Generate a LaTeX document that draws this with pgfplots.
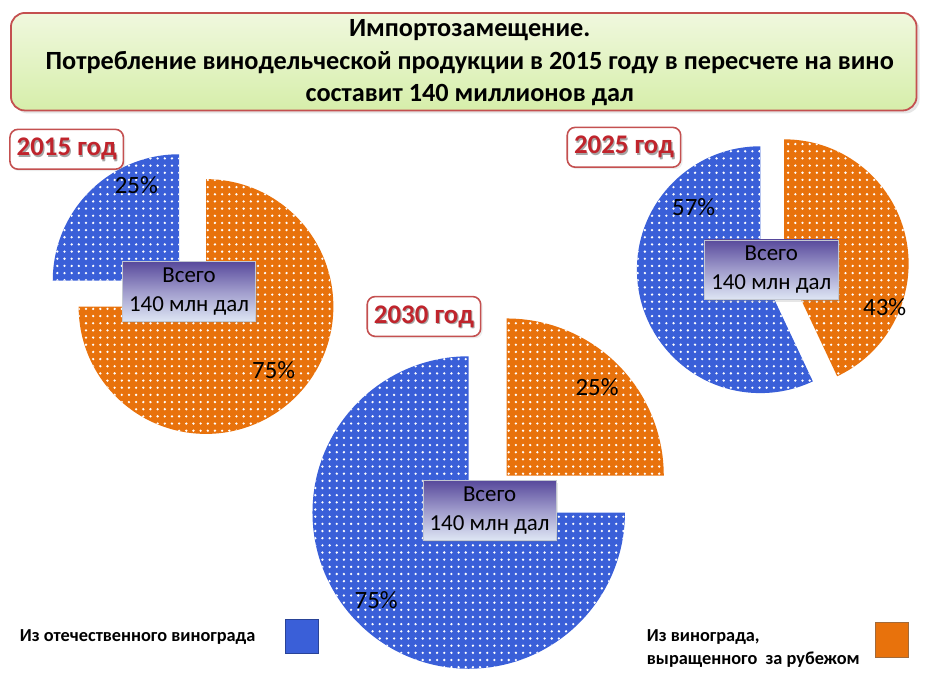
\documentclass[border=0pt]{standalone}
\usepackage{pgfplots}
\pgfplotsset{compat=1.18}
\usepackage{pgfplotstable}
\usepackage{fontspec}
\setmainfont{Carlito}
\usetikzlibrary{patterns,patterns.meta,shadows}
\definecolor{pblue}{RGB}{58,95,216}
\definecolor{porange}{RGB}{232,114,12}
\definecolor{redline}{RGB}{196,80,80}
\definecolor{darkred}{RGB}{192,36,44}
\definecolor{gtop}{RGB}{240,248,222}
\definecolor{gbot}{RGB}{214,238,170}
\definecolor{btop}{RGB}{88,74,156}
\definecolor{bmid}{RGB}{160,156,204}
\definecolor{bbot}{RGB}{222,230,244}
\tikzdeclarepattern{name=wdots, type=uncolored,
  bounding box={(-2pt,-2pt) and (2pt,2pt)},
  tile size={(3.6pt,3.6pt)},
  code={\fill (0pt,0pt) circle (0.65pt);}}
\newcommand\piewedge[6]{%
  \path[fill=#6, postaction={pattern=wdots, pattern color=white}]
    (axis cs:#1,#2) -- ++(#4:#3*0.5pt) arc[start angle=#4, end angle=#5, radius=#3*0.5pt] -- cycle;}
\newcommand\yearbox[3]{%
  \node[draw=redline, line width=0.8pt, rounded corners=4pt, fill=white, minimum width=57pt, minimum height=20pt, drop shadow={opacity=0.15, shadow xshift=1pt, shadow yshift=-1pt}] at (axis cs:#1,#2) {};
  \node[text=black!35, font=\bfseries\fontsize{13.5}{15}\selectfont] at ([xshift=0.6pt,yshift=-0.8pt]axis cs:#1,#2) {#3};
  \node[text=darkred, font=\bfseries\fontsize{13.5}{15}\selectfont] at (axis cs:#1,#2) {#3};}
\newcommand\totalbox[2]{%
  \node[top color=btop, bottom color=bbot, middle color=bmid, draw=bbot!70!gray, line width=0.3pt, minimum width=67pt, minimum height=30pt, align=center, font=\fontsize{11.5}{14.5}\selectfont, inner sep=1pt, drop shadow={opacity=0.2, shadow xshift=1pt, shadow yshift=-1pt}] at (axis cs:#1,#2) {Всего\\140 млн дал};}
\begin{document}
\begin{tikzpicture}
\pgfplotstableread{
year domestic foreign
2015 25 75
2025 57 43
2030 75 25
}\piedata
\pgfplotstablegetelem{0}{domestic}\of\piedata \let\dA\pgfplotsretval
\pgfplotstablegetelem{0}{foreign}\of\piedata \let\fA\pgfplotsretval
\pgfplotstablegetelem{1}{domestic}\of\piedata \let\dB\pgfplotsretval
\pgfplotstablegetelem{1}{foreign}\of\piedata \let\fB\pgfplotsretval
\pgfplotstablegetelem{2}{domestic}\of\piedata \let\dC\pgfplotsretval
\pgfplotstablegetelem{2}{foreign}\of\piedata \let\fC\pgfplotsretval
\pgfmathsetmacro\eA{90+3.6*\dA}\pgfmathsetmacro\sA{90-3.6*\fA}
\pgfmathsetmacro\eB{90+3.6*\dB}\pgfmathsetmacro\sB{90-3.6*\fB}
\pgfmathsetmacro\eC{90+3.6*\dC}\pgfmathsetmacro\sC{90-3.6*\fC}
\begin{axis}[x=0.5pt, y=0.5pt, xmin=0, xmax=926, ymin=0, ymax=677, y dir=reverse,
  hide axis, clip=false, scale only axis]
\path (axis cs:0,0) rectangle (axis cs:926,677);
% title
\node[draw=redline, line width=0.9pt, rounded corners=7pt, top color=gtop, bottom color=gbot,
  minimum width=455pt, minimum height=49pt, drop shadow={opacity=0.2, shadow xshift=1.5pt, shadow yshift=-1.5pt}] at (axis cs:466,62) {};
\node[font=\bfseries\fontsize{13.2}{16.5}\selectfont, align=center] at (axis cs:472,63)
  {Импортозамещение.\\Потребление винодельческой продукции в 2015 году в пересчете на вино\\составит 140 миллионов дал};
% pies: 2015
\piewedge{180}{282}{127}{90}{\eA}{pblue}
\piewedge{207}{308}{128}{\sA}{90}{porange}
% 2025
\piewedge{764}{271}{124}{90}{\eB}{pblue}
\piewedge{788}{265}{125}{\sB}{90}{porange}
% 2030
\piewedge{471}{515}{157}{90}{\eC}{pblue}
\piewedge{509}{478}{158}{\sC}{90}{porange}
% percent labels
\node[font=\fontsize{12.5}{14}\selectfont] at (axis cs:137,186) {25\%};
\node[font=\fontsize{12.5}{14}\selectfont] at (axis cs:275,372) {75\%};
\node[font=\fontsize{12.5}{14}\selectfont] at (axis cs:697,208) {57\%};
\node[font=\fontsize{12.5}{14}\selectfont] at (axis cs:889,309) {43\%};
\node[font=\fontsize{12.5}{14}\selectfont] at (axis cs:600,389) {25\%};
\node[font=\fontsize{12.5}{14}\selectfont] at (axis cs:378,603) {75\%};
% total boxes
\totalbox{190}{293}
\totalbox{775}{271}
\totalbox{492}{513}
% year boxes
\yearbox{67}{150}{2015 год}
\yearbox{627}{148}{2025 год}
\yearbox{426}{318}{2030 год}
% legend
\node[anchor=west, font=\bfseries\fontsize{9.2}{11}\selectfont] at (axis cs:13,640) {Из отечественного винограда};
\fill[pblue, draw=pblue!70!black, line width=0.5pt] (axis cs:287,622) rectangle (axis cs:320,657);
\node[anchor=west, align=left, font=\bfseries\fontsize{9.2}{11.5}\selectfont] at (axis cs:643,652) {Из винограда,\\выращенного\ \ за рубежом};
\fill[porange, draw=porange!60!black!80, line width=0.5pt] (axis cs:880,626) rectangle (axis cs:913,661);
\end{axis}
\end{tikzpicture}
\end{document}
